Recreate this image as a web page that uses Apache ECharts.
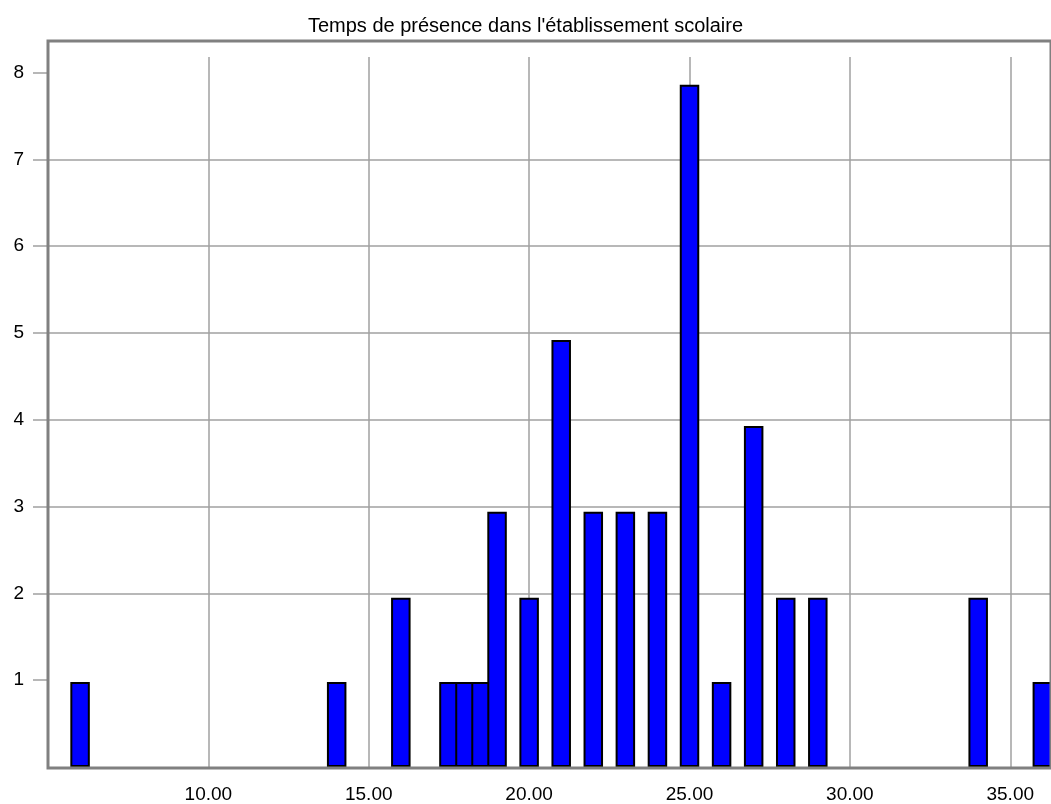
<!DOCTYPE html>
<html>
<head>
<meta charset="utf-8">
<script src="https://cdn.jsdelivr.net/npm/echarts@6/dist/echarts.min.js"></script>
<style>
  html, body { margin: 0; padding: 0; background: #fff; }
  #chart { width: 1051px; height: 804px; }
</style>
</head>
<body>
<div id="chart"></div>
<script>
// histogram bins (x = temps, y = effectif)
var binCenters = [6, 14, 16, 17.5, 18, 18.5, 19, 20, 21, 22, 23, 24, 25, 26, 27, 28, 29, 34, 36]
var binHeights = [0.98, 0.98, 1.95, 0.98, 0.98, 0.98, 2.94, 1.95, 4.92, 2.94, 2.94, 2.94, 7.86, 0.98, 3.93, 1.95, 1.95, 1.95, 0.98]
var yTickValues = [1, 2, 3, 4, 5, 6, 7, 8]
var titleText = "Temps de présence dans l'établissement scolaire"

var font = 'Liberation Sans, Arial, sans-serif'
var gridColor = '#a0a0a0'

var chart = echarts.init(document.getElementById('chart'))

var barData = binCenters.map(function (x, i) { return [x, binHeights[i]] })

var option = {
  animation: false,
  backgroundColor: '#fff',
  title: {
    text: titleText,
    left: 'center',
    top: 11,
    textStyle: { fontFamily: font, fontSize: 20, fontWeight: 'normal', color: '#000' }
  },
  grid: [
    // data area (vertical grid lines stop below the frame top)
    { left: 48, right: 0, top: 57, bottom: 35 },
    // frame
    { left: 48, right: -6, top: 41, bottom: 36, show: true, borderWidth: 3, borderColor: '#808080', backgroundColor: 'transparent', z: 5 }
  ],
  xAxis: [
    {
      type: 'value',
      gridIndex: 0,
      min: 5,
      max: 36.27,
      interval: 5,
      axisLine: { show: false },
      axisTick: { show: false },
      splitLine: { show: true, showMinLine: false, showMaxLine: false, lineStyle: { color: gridColor, width: 1.5 } },
      axisLabel: {
        margin: 18,
        color: '#000',
        fontFamily: font,
        fontSize: 19,
        showMaxLabel: false,
        formatter: function (v) { return (v % 5 === 0 && v > 5) ? v.toFixed(2) : '' }
      }
    },
    { type: 'value', gridIndex: 1, show: false, min: 0, max: 1 }
  ],
  yAxis: [
    {
      type: 'value',
      gridIndex: 0,
      min: 0,
      max: 8.18,
      interval: 1,
      axisLine: { show: false },
      axisTick: { show: true, length: 15, customValues: yTickValues, lineStyle: { color: gridColor, width: 1.5 } },
      splitLine: { show: true, showMinLine: false, showMaxLine: false, lineStyle: { color: gridColor, width: 1.5 } },
      axisLabel: {
        margin: 24,
        color: '#000',
        fontFamily: font,
        fontSize: 19,
        customValues: yTickValues
      }
    },
    { type: 'value', gridIndex: 1, show: false, min: 0, max: 1 }
  ],
  series: [
    {
      type: 'bar',
      xAxisIndex: 0,
      yAxisIndex: 0,
      barWidth: 19.5,
      data: barData,
      itemStyle: { color: '#0000ff', borderColor: '#000', borderWidth: 2 }
    }
  ]
}

chart.setOption(option)
</script>
</body>
</html>
